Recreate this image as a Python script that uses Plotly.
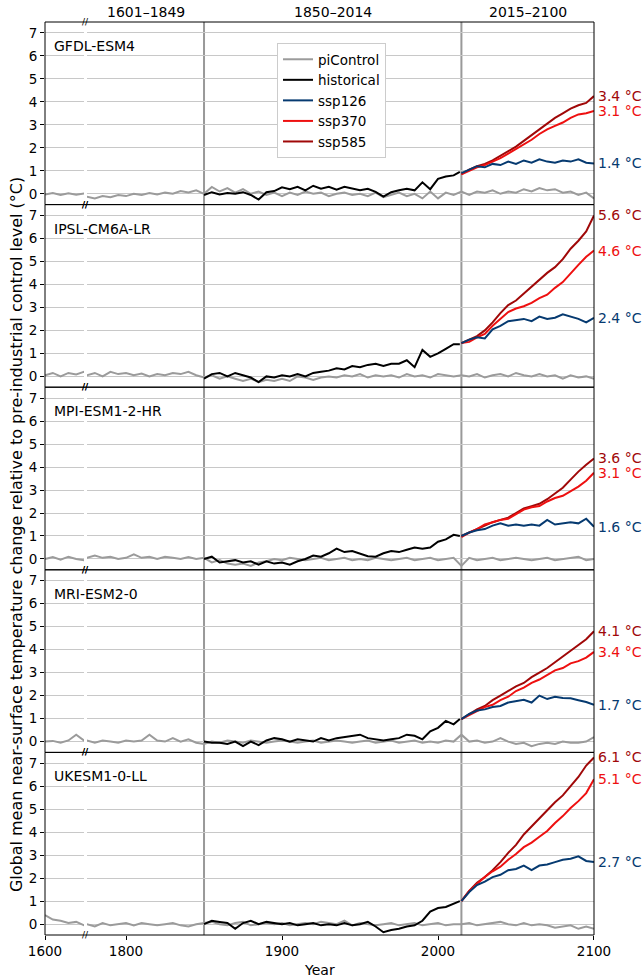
import plotly.graph_objects as go
from plotly.subplots import make_subplots

# ---------------- data ----------------
models = ["GFDL-ESM4", "IPSL-CM6A-LR", "MPI-ESM1-2-HR", "MRI-ESM2-0", "UKESM1-0-LL"]
scenarios = ["ssp126", "ssp370", "ssp585"]
period_labels = ["1601–1849", "1850–2014", "2015–2100"]
period_spans = [(1775, 1850), (1850, 2015), (2015, 2100)]
boundary_years = [1850, 2015]

pi_years_left = list(range(1600, 1631, 5))      # shown before the axis break
pi_years_right = list(range(1770, 2101, 5))     # shown after the axis break
hist_years = list(range(1850, 2011, 5)) + [2014]
ssp_years = list(range(2015, 2101, 5))

x_ticks_left = [1600]
x_ticks_right = [1800, 1900, 2000, 2100]
y_ticks = [0, 1, 2, 3, 4, 5, 6, 7]

# GFDL-ESM4
gfdl_pi_left = [-0.03, 0.03, -0.05, 0.02, -0.04, 0.01, -0.08]
gfdl_pi = [-0.05, -0.12, -0.2, -0.1, -0.15, -0.05, -0.1, 0.0, -0.05, 0.03,
           -0.03, 0.05, 0.0, 0.12, 0.06, 0.15, 0.0, 0.3, 0.1, 0.25,
           0.05, 0.2, 0.0, 0.1, -0.05, 0.05, -0.1, 0.05, -0.05, 0.1,
           0.0, 0.05, -0.1, 0.0, 0.05, -0.05, 0.0, -0.1, 0.05, -0.15,
           -0.05, 0.05, -0.1, 0.0, -0.2, 0.1, -0.2, 0.05, -0.05, 0.1,
           -0.05, 0.1, 0.05, 0.15, 0.0, 0.1, 0.05, 0.2, 0.1, 0.25,
           0.15, 0.2, 0.05, 0.1, -0.05, 0.05, -0.2]
gfdl_hist = [-0.05, 0.07, -0.03, 0.03, 0.0, 0.07, -0.05, -0.25, 0.07, 0.12,
             0.28, 0.2, 0.3, 0.15, 0.35, 0.22, 0.3, 0.18, 0.3, 0.22,
             0.15, 0.22, 0.08, -0.12, 0.07, 0.15, 0.22, 0.15, 0.5, 0.2,
             0.65, 0.75, 0.8, 0.95]
gfdl_ssp126 = [0.9, 1.05, 1.2, 1.15, 1.3, 1.25, 1.4, 1.3, 1.45, 1.35,
               1.5, 1.4, 1.35, 1.45, 1.4, 1.5, 1.35, 1.32]
gfdl_ssp370 = [0.85, 1.0, 1.15, 1.25, 1.4, 1.55, 1.75, 1.95, 2.15, 2.35,
               2.6, 2.8, 2.95, 3.1, 3.3, 3.45, 3.5, 3.6]
gfdl_ssp585 = [0.85, 1.05, 1.2, 1.3, 1.45, 1.65, 1.85, 2.05, 2.3, 2.55,
               2.8, 3.05, 3.3, 3.5, 3.7, 3.85, 3.95, 4.25]
gfdl_labels = ["1.4 °C", "3.1 °C", "3.4 °C"]

# IPSL-CM6A-LR
ipsl_pi_left = [0.05, 0.15, 0.0, 0.15, 0.08, 0.2, 0.05]
ipsl_pi = [0.1, 0.05, 0.15, 0.0, 0.2, 0.1, 0.15, 0.05, 0.12, 0.0,
           0.1, 0.05, 0.15, 0.1, 0.2, 0.05, -0.05, 0.05, -0.1, 0.0,
           -0.1, -0.2, -0.1, -0.25, -0.15, -0.2, -0.1, -0.2, 0.0, -0.05,
           -0.15, -0.05, 0.0, -0.05, 0.05, 0.0, 0.1, -0.05, 0.05, 0.0,
           0.05, -0.05, 0.1, 0.0, 0.05, -0.05, 0.1, 0.05, 0.0, 0.05,
           0.0, 0.1, -0.05, 0.05, 0.1, 0.0, 0.15, 0.05, 0.0, 0.1,
           0.0, 0.05, -0.1, 0.05, -0.05, 0.0, -0.1]
ipsl_hist = [-0.1, 0.1, 0.15, 0.0, 0.15, 0.05, -0.05, -0.25, 0.0, -0.05,
             0.05, 0.0, 0.1, 0.0, 0.15, 0.2, 0.25, 0.35, 0.3, 0.45,
             0.4, 0.5, 0.55, 0.45, 0.55, 0.55, 0.7, 0.4, 1.15, 0.85,
             1.0, 1.2, 1.4, 1.4]
ipsl_ssp126 = [1.45, 1.6, 1.7, 1.65, 2.05, 2.2, 2.4, 2.45, 2.5, 2.4,
               2.6, 2.5, 2.55, 2.7, 2.6, 2.5, 2.35, 2.55]
ipsl_ssp370 = [1.45, 1.5, 1.7, 1.85, 2.2, 2.5, 2.8, 2.95, 3.05, 3.2,
               3.4, 3.55, 3.85, 4.1, 4.5, 4.85, 5.2, 5.47]
ipsl_ssp585 = [1.45, 1.6, 1.75, 2.0, 2.35, 2.75, 3.1, 3.3, 3.6, 3.9,
               4.2, 4.5, 4.75, 5.1, 5.55, 5.9, 6.3, 7.0]
ipsl_labels = ["2.4 °C", "4.6 °C", "5.6 °C"]

# MPI-ESM1-2-HR
mpi_pi_left = [0.0, 0.08, -0.03, 0.1, 0.0, -0.05, 0.05]
mpi_pi = [0.0, 0.05, 0.15, 0.05, 0.1, 0.0, 0.05, 0.2, 0.05, 0.1,
          0.0, 0.1, 0.05, 0.0, 0.08, 0.0, 0.05, -0.15, -0.05, -0.2,
          -0.25, -0.2, -0.3, -0.15, -0.1, 0.0, -0.05, 0.05, 0.0, -0.05,
          0.0, 0.05, -0.05, 0.0, 0.05, -0.05, 0.0, -0.05, 0.05, 0.0,
          -0.05, 0.0, 0.05, -0.05, 0.0, 0.05, -0.05, 0.0, 0.05, -0.3,
          0.05, -0.05, 0.0, 0.05, -0.05, 0.0, 0.05, 0.0, -0.05, 0.0,
          0.05, -0.05, 0.0, 0.05, 0.1, -0.05, 0.0]
mpi_hist = [0.0, 0.1, -0.15, -0.1, -0.05, -0.15, -0.1, -0.25, -0.1, -0.2,
            -0.15, -0.25, -0.1, 0.0, 0.15, 0.1, 0.25, 0.45, 0.3, 0.35,
            0.25, 0.12, 0.1, 0.25, 0.35, 0.3, 0.4, 0.5, 0.45, 0.5,
            0.75, 0.85, 1.05, 1.0]
mpi_ssp126 = [1.0, 1.15, 1.25, 1.3, 1.45, 1.55, 1.45, 1.5, 1.45, 1.5,
              1.45, 1.7, 1.5, 1.55, 1.6, 1.55, 1.75, 1.4]
mpi_ssp370 = [0.95, 1.15, 1.3, 1.5, 1.6, 1.7, 1.75, 1.95, 2.15, 2.25,
              2.3, 2.5, 2.65, 2.75, 2.95, 3.15, 3.4, 3.75]
mpi_ssp585 = [1.0, 1.15, 1.3, 1.45, 1.6, 1.7, 1.8, 2.0, 2.2, 2.3,
              2.4, 2.6, 2.85, 3.1, 3.45, 3.8, 4.1, 4.37]
mpi_labels = ["1.6 °C", "3.1 °C", "3.6 °C"]

# MRI-ESM2-0
mri_pi_left = [0.0, 0.03, -0.05, 0.05, 0.3, 0.05, 0.0]
mri_pi = [-0.05, 0.05, -0.05, 0.05, 0.0, -0.05, 0.05, 0.0, 0.05, 0.3,
          0.05, 0.0, 0.15, 0.0, 0.1, -0.05, -0.1, 0.0, -0.05, 0.05,
          0.0, -0.05, 0.05, 0.0, -0.05, 0.0, 0.05, 0.0, -0.05, 0.0,
          0.05, -0.05, 0.0, 0.05, 0.0, -0.05, 0.0, 0.05, -0.05, 0.0,
          0.05, -0.05, 0.0, 0.05, -0.05, 0.0, -0.05, 0.05, 0.0, 0.3,
          0.0, 0.05, -0.05, 0.0, 0.15, 0.0, -0.1, -0.05, -0.2, -0.1,
          -0.05, -0.1, 0.0, -0.05, -0.05, 0.0, 0.2]
mri_hist = [0.0, -0.05, -0.05, -0.1, 0.0, -0.2, 0.0, -0.15, 0.05, 0.15,
            0.1, 0.0, 0.1, 0.05, 0.0, 0.15, 0.05, 0.15, 0.2, 0.25,
            0.3, 0.15, 0.1, 0.05, 0.1, 0.15, 0.3, 0.25, 0.1, 0.45,
            0.6, 0.9, 0.75, 0.98]
mri_ssp126 = [0.98, 1.2, 1.35, 1.4, 1.5, 1.55, 1.7, 1.75, 1.82, 1.7,
              2.0, 1.85, 1.95, 1.9, 1.88, 1.8, 1.72, 1.6]
mri_ssp370 = [0.98, 1.15, 1.3, 1.5, 1.6, 1.8, 1.95, 2.2, 2.35, 2.55,
              2.7, 2.9, 3.1, 3.2, 3.4, 3.5, 3.65, 3.9]
mri_ssp585 = [0.98, 1.2, 1.4, 1.55, 1.8, 2.0, 2.2, 2.4, 2.55, 2.8,
              3.0, 3.2, 3.45, 3.7, 3.95, 4.2, 4.45, 4.8]
mri_labels = ["1.7 °C", "3.4 °C", "4.1 °C"]

# UKESM1-0-LL
ukesm_pi_left = [0.4, 0.2, 0.15, 0.05, 0.1, -0.05, 0.0]
ukesm_pi = [-0.05, 0.0, -0.1, 0.05, -0.05, 0.0, 0.05, -0.05, 0.05, 0.0,
            -0.05, 0.0, 0.05, -0.05, -0.1, 0.0, 0.05, 0.1, 0.0, -0.05,
            0.05, 0.1, -0.05, 0.0, 0.05, 0.0, 0.05, -0.05, 0.0, 0.05,
            0.0, 0.1, 0.05, 0.0, 0.15, -0.05, 0.05, 0.0, -0.05, 0.0,
            0.05, -0.05, 0.0, 0.05, -0.05, 0.0, 0.05, -0.05, 0.0, 0.0,
            0.05, -0.05, 0.0, 0.05, 0.1, 0.0, -0.05, 0.05, -0.05, 0.0,
            -0.05, -0.15, -0.1, -0.05, -0.2, -0.1, -0.2]
ukesm_hist = [0.0, 0.15, 0.1, 0.05, -0.2, 0.05, 0.15, 0.0, 0.1, 0.05,
              0.0, 0.05, -0.05, 0.0, 0.05, -0.05, 0.0, -0.05, 0.05, -0.05,
              0.0, 0.1, -0.1, -0.35, -0.25, -0.2, -0.1, -0.05, 0.15, 0.55,
              0.7, 0.75, 0.9, 1.0]
ukesm_ssp126 = [1.0, 1.4, 1.7, 1.85, 2.05, 2.15, 2.35, 2.4, 2.55, 2.35,
                2.55, 2.6, 2.7, 2.8, 2.85, 2.95, 2.75, 2.7]
ukesm_ssp370 = [1.0, 1.45, 1.75, 2.05, 2.3, 2.5, 2.8, 3.05, 3.35, 3.55,
                3.8, 4.05, 4.4, 4.7, 5.05, 5.35, 5.7, 6.3]
ukesm_ssp585 = [1.0, 1.45, 1.8, 2.05, 2.35, 2.7, 3.1, 3.45, 3.9, 4.25,
                4.6, 4.95, 5.3, 5.6, 6.0, 6.4, 6.9, 7.25]
ukesm_labels = ["2.7 °C", "5.1 °C", "6.1 °C"]

# ---------------- assemble ----------------
data = {
    "GFDL-ESM4": dict(pi_left=gfdl_pi_left, pi=gfdl_pi, hist=gfdl_hist,
                      ssp126=gfdl_ssp126, ssp370=gfdl_ssp370, ssp585=gfdl_ssp585, labels=gfdl_labels),
    "IPSL-CM6A-LR": dict(pi_left=ipsl_pi_left, pi=ipsl_pi, hist=ipsl_hist,
                         ssp126=ipsl_ssp126, ssp370=ipsl_ssp370, ssp585=ipsl_ssp585, labels=ipsl_labels),
    "MPI-ESM1-2-HR": dict(pi_left=mpi_pi_left, pi=mpi_pi, hist=mpi_hist,
                          ssp126=mpi_ssp126, ssp370=mpi_ssp370, ssp585=mpi_ssp585, labels=mpi_labels),
    "MRI-ESM2-0": dict(pi_left=mri_pi_left, pi=mri_pi, hist=mri_hist,
                       ssp126=mri_ssp126, ssp370=mri_ssp370, ssp585=mri_ssp585, labels=mri_labels),
    "UKESM1-0-LL": dict(pi_left=ukesm_pi_left, pi=ukesm_pi, hist=ukesm_hist,
                        ssp126=ukesm_ssp126, ssp370=ukesm_ssp370, ssp585=ukesm_ssp585, labels=ukesm_labels),
}

colors = {"piControl": "#9b9b9b", "historical": "#000000",
          "ssp126": "#063a70", "ssp370": "#ee1010", "ssp585": "#a00808"}
rank = {"piControl": 1, "historical": 2, "ssp126": 3, "ssp370": 4, "ssp585": 5}

FONT = "DejaVu Sans"
FS = 14
TFS = 13.5
LW = 2
YR = [-0.47, 7.47]
X_LEFT = [1600, 1625]
X_RIGHT = [1775, 2100]

fig = make_subplots(rows=5, cols=2, column_widths=[X_LEFT[1] - X_LEFT[0], X_RIGHT[1] - X_RIGHT[0]],
                    horizontal_spacing=0.0055, vertical_spacing=0)

for i, m in enumerate(models):
    r = i + 1
    d = data[m]
    first = (i == 0)
    fig.add_trace(go.Scatter(x=pi_years_left, y=d["pi_left"], mode="lines", name="piControl",
                             line=dict(color=colors["piControl"], width=LW), showlegend=False,
                             hoverinfo="skip"), row=r, col=1)
    fig.add_trace(go.Scatter(x=pi_years_right, y=d["pi"], mode="lines", name="piControl",
                             line=dict(color=colors["piControl"], width=LW), showlegend=first,
                             legendrank=rank["piControl"], hoverinfo="skip"), row=r, col=2)
    fig.add_trace(go.Scatter(x=hist_years, y=d["hist"], mode="lines", name="historical",
                             line=dict(color=colors["historical"], width=LW), showlegend=first,
                             legendrank=rank["historical"], hoverinfo="skip"), row=r, col=2)
    for s in ["ssp585", "ssp370", "ssp126"]:
        fig.add_trace(go.Scatter(x=ssp_years, y=d[s], mode="lines", name=s,
                                 line=dict(color=colors[s], width=LW), showlegend=first,
                                 legendrank=rank[s], hoverinfo="skip"), row=r, col=2)
    # end-of-century labels
    ax_x = "x%d" % (2 * r)
    ax_y = "y%d" % (2 * r)
    for s, lab in zip(scenarios, d["labels"]):
        fig.add_annotation(x=ssp_years[-1], y=d[s][-1], xref=ax_x, yref=ax_y, text=lab,
                           showarrow=False, xanchor="left", yanchor="middle", xshift=2,
                           font=dict(family=FONT, size=FS, color=colors[s]))

tickfont = dict(family=FONT, size=TFS, color="black")
for r in range(1, 6):
    bottom = (r == 5)
    fig.update_xaxes(range=X_LEFT, row=r, col=1, showgrid=False, zeroline=False, showline=False,
                     tickvals=x_ticks_left if bottom else [], ticks="outside" if bottom else "",
                     ticklen=4, tickcolor="black", tickfont=tickfont, showticklabels=bottom)
    fig.update_xaxes(range=X_RIGHT, row=r, col=2, showgrid=False, zeroline=False, showline=False,
                     tickvals=x_ticks_right if bottom else [], ticks="outside" if bottom else "",
                     ticklen=4, tickcolor="black", tickfont=tickfont, showticklabels=bottom)
    fig.update_yaxes(range=YR, row=r, col=1, tickvals=y_ticks, showgrid=True, gridcolor="#c8c8c8",
                     gridwidth=1.3, zeroline=False, showline=False, ticks="outside", ticklen=4,
                     tickcolor="black", tickfont=tickfont)
    fig.update_yaxes(range=YR, row=r, col=2, tickvals=y_ticks, showgrid=True, gridcolor="#c8c8c8",
                     gridwidth=1.3, zeroline=False, showline=False, ticks="", showticklabels=False)

shapes = []
# period boundary lines
for yb in boundary_years:
    shapes.append(dict(type="line", xref="x2", yref="paper", x0=yb, x1=yb, y0=0, y1=1,
                       line=dict(color="#999999", width=2), layer="below"))
# panel frames
for r in range(1, 6):
    dom = fig.layout["yaxis%d" % (2 * r - 1)].domain
    shapes.append(dict(type="rect", xref="paper", yref="paper", x0=0, x1=1, y0=dom[0], y1=dom[1],
                       line=dict(color="black", width=1), fillcolor="rgba(0,0,0,0)", layer="above"))
fig.update_layout(shapes=shapes)

# axis-break marks
gap_x = (fig.layout.xaxis.domain[1] + fig.layout.xaxis2.domain[0]) / 2
for r in range(1, 6):
    dom = fig.layout["yaxis%d" % (2 * r - 1)].domain
    for yy in (dom[0], dom[1]):
        fig.add_annotation(x=gap_x, y=yy, xref="paper", yref="paper", text="//", showarrow=False,
                           xanchor="center", yanchor="middle", font=dict(family=FONT, size=9, color="black"))
    # model names
    fig.add_annotation(x=0.013, y=dom[1], yshift=-24, xref="paper", yref="paper", text=models[r - 1],
                       showarrow=False, xanchor="left", yanchor="middle",
                       font=dict(family=FONT, size=FS, color="black"))

# period headers
for lab, (a, b) in zip(period_labels, period_spans):
    fig.add_annotation(x=(a + b) / 2, y=1, yshift=10, xref="x2", yref="paper", text=lab,
                       showarrow=False, xanchor="center", yanchor="middle",
                       font=dict(family=FONT, size=FS, color="black"))

# axis titles
fig.add_annotation(x=0.5, y=0, yshift=-35, xref="paper", yref="paper", text="Year", showarrow=False,
                   xanchor="center", yanchor="middle", font=dict(family=FONT, size=FS, color="black"))
fig.add_annotation(x=0, xshift=-29, y=0.438, xref="paper", yref="paper",
                   text="Global mean near-surface temperature change relative to pre-industrial control level (°C)",
                   textangle=-90, showarrow=False, xanchor="center", yanchor="middle",
                   font=dict(family=FONT, size=16, color="black"))

fig.update_layout(
    width=642, height=980,
    margin=dict(l=45, r=48, t=22, b=45),
    paper_bgcolor="white", plot_bgcolor="white",
    font=dict(family=FONT, size=FS, color="black"),
    showlegend=True,
    legend=dict(x=0.4226, y=0.977, xanchor="left", yanchor="top", bgcolor="white",
                bordercolor="#cccccc", borderwidth=1, font=dict(family=FONT, size=TFS, color="black"),
                tracegroupgap=0, itemwidth=30),
)

# remove the page's default body margin so the figure sits at the window's corner
fig.write_html("out.html", config={"displayModeBar": False},
               post_script="document.body.style.margin='0';")
